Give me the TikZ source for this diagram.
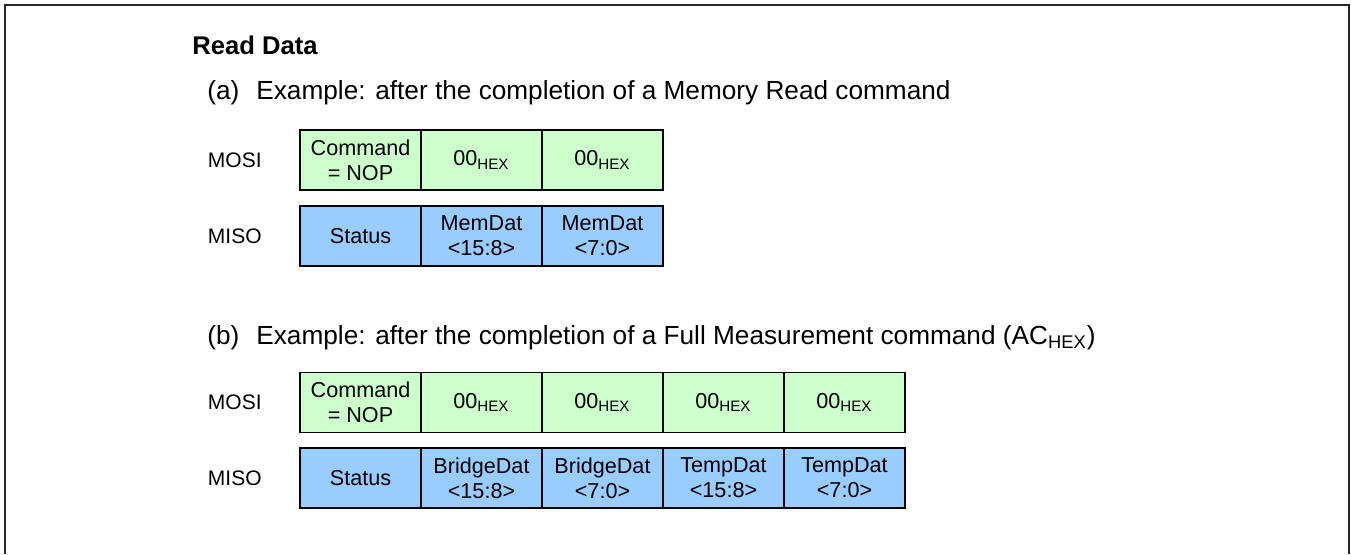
\documentclass[tikz,border=0pt]{standalone}
\usepackage{fontspec}
\setmainfont{Liberation Sans}
\usetikzlibrary{positioning}
\definecolor{mosigreen}{RGB}{204,255,204}
\definecolor{misoblue}{RGB}{153,204,255}
\newcommand{\hexsub}{\textsubscript{HEX}}
\tikzset{
    %Define style for the outer frame
    frame/.style={draw=black!85, line width=1pt},
    %Define style for headings
    heading/.style={
           anchor=base west,
           inner sep=0pt,
           font=\fontsize{13.1}{15}\selectfont},
    % Define style for byte cells
    byte/.style={
           rectangle,
           draw=black, line width=0.75pt,
           minimum width=60.5pt,
           minimum height=30pt,
           inner sep=0pt, outer sep=0pt,
           align=center,
           font=\fontsize{10.8}{12.5}\selectfont},
    mosi/.style={byte,fill=mosigreen},
    miso/.style={byte,fill=misoblue},
    % Define style for signal names
    signal/.style={inner sep=0pt,font=\fontsize{10.5}{12.5}\selectfont}
}

\begin{document}
\begin{tikzpicture}[x=0.5pt,y=-0.5pt,node distance=0pt]
  \useasboundingbox (0,0) rectangle (1351,554);
  \draw[frame] (5,554) -- (5,5) -- (1349,5) -- (1349,554);
  \node[heading,font=\fontsize{12.8}{15}\selectfont\bfseries] (title) at (192,54) {Read Data};
  % (a) Memory Read
  \node[heading] (ha) at (207,99) {(a)\hspace{0.65em}Example: after the completion of a Memory Read command};
  \node[mosi] (ao1) at (360.5,160) {Command\\= NOP};
  \node[mosi] (ao2) [right=of ao1] {00\hexsub};
  \node[mosi] (ao3) [right=of ao2] {00\hexsub};
  \node[miso] (ai1) at (360.5,236) {Status};
  \node[miso] (ai2) [right=of ai1] {MemDat\\<15:8>};
  \node[miso] (ai3) [right=of ai2] {MemDat\\<7:0>};
  \node[signal] (lao) [left=19pt of ao1] {MOSI};
  \node[signal] (lai) [left=19pt of ai1] {MISO};
  % (b) Full Measurement
  \node[heading] (hb) at (207,344) {(b)\hspace{0.65em}Example: after the completion of a Full Measurement command (AC\hexsub)};
  \node[mosi] (bo1) at (360.5,402.5) {Command\\= NOP};
  \node[mosi] (bo2) [right=of bo1] {00\hexsub};
  \node[mosi] (bo3) [right=of bo2] {00\hexsub};
  \node[mosi] (bo4) [right=of bo3] {00\hexsub};
  \node[mosi] (bo5) [right=of bo4] {00\hexsub};
  \node[miso] (bi1) at (360.5,478) {Status};
  \node[miso] (bi2) [right=of bi1] {BridgeDat\\<15:8>};
  \node[miso] (bi3) [right=of bi2] {BridgeDat\\<7:0>};
  \node[miso] (bi4) [right=of bi3] {TempDat\\<15:8>};
  \node[miso] (bi5) [right=of bi4] {TempDat\\<7:0>};
  \node[signal] (lbo) [left=19pt of bo1] {MOSI};
  \node[signal] (lbi) [left=19pt of bi1] {MISO};
\end{tikzpicture}
\end{document}
